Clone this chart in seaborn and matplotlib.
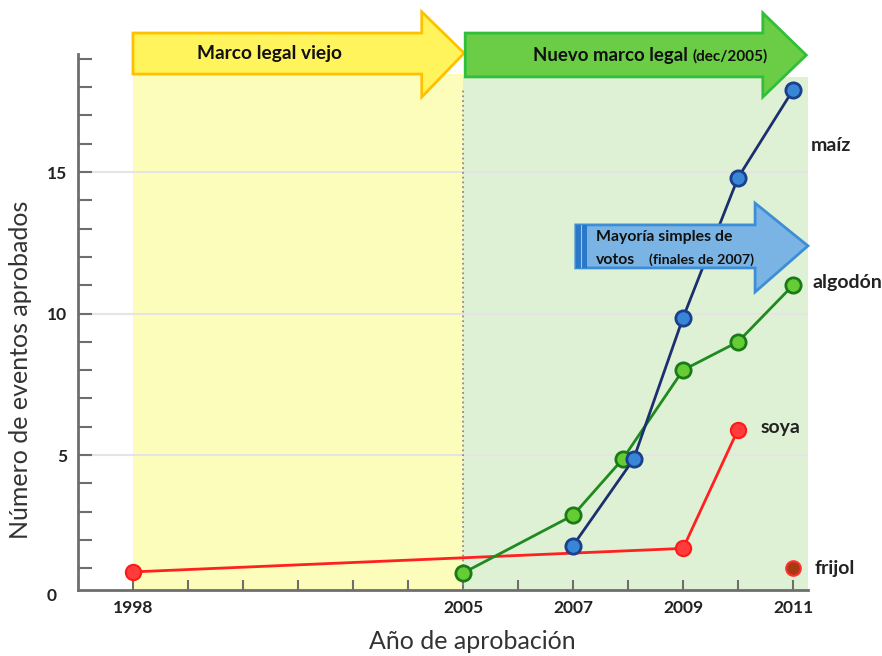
import numpy as np
import matplotlib
matplotlib.use("Agg")
import matplotlib.pyplot as plt
import seaborn as sns
from matplotlib.patches import Polygon, Rectangle

sns.set_theme(style="white")
plt.rcParams['font.family'] = ['Lato', 'DejaVu Sans']

# datos
etiquetas_x = ['1998', '', '', '', '', '', '2005', '', '2007', '', '2009', '', '2011']

maiz_anios = [2007, 2008.1, 2009, 2010, 2011]
maiz_valores = [1.8, 4.85, 9.85, 14.8, 17.9]

algodon_anios = [2005, 2007, 2007.9, 2009, 2010, 2011]
algodon_valores = [0.83, 2.87, 4.85, 8.0, 9.0, 11.0]

soya_anios = [1998, 2009, 2010]
soya_valores = [0.87, 1.7, 5.9]

frijol_anios = [2011]
frijol_valores = [1.0]


def pos(anios):
    # eje cortado: 1998 -> 0, 2005 -> 6, luego un paso por año
    a = np.asarray(anios, dtype=float)
    return np.where(a >= 2005, a - 1999, (a - 1998) * 6 / 7)


fig = plt.figure(figsize=(8.82, 6.56), dpi=100)
ax = fig.add_axes([0.0884, 0.1006, 0.8276, 0.8171])
y0, y1 = 0.23, 19.17
ax.set_xlim(-1, 12.27)
ax.set_ylim(y0, y1)

# zonas de fondo
ax.add_patch(Rectangle((0, y0), 6, 18.46 - y0, color='#fdfdbb', zorder=0, lw=0))
ax.add_patch(Rectangle((6, y0), 6.27, 18.36 - y0, color='#dff1d4', zorder=0, lw=0))
ax.plot([6, 6], [y0, 17.97], ls=':', color='#8a8a9a', lw=1.3, zorder=1)
for g in [5, 10, 15]:
    ax.axhline(g, color='#e4e4e4', lw=1.5, zorder=0.5)

# series
sns.lineplot(x=pos(soya_anios), y=soya_valores, ax=ax, color='#ff2020', lw=2,
             marker='o', markersize=11, markerfacecolor='#ff3b3b',
             markeredgecolor='#ff1a1a', markeredgewidth=1.5, zorder=3)
sns.lineplot(x=pos(algodon_anios), y=algodon_valores, ax=ax, color='#1f8a1f', lw=2,
             marker='o', markersize=11, markerfacecolor='#66cc33',
             markeredgecolor='#1a7a1a', markeredgewidth=2, zorder=4)
sns.lineplot(x=pos(maiz_anios), y=maiz_valores, ax=ax, color='#1c2f6e', lw=2,
             marker='o', markersize=11, markerfacecolor='#3a86d6',
             markeredgecolor='#1a3f8f', markeredgewidth=2, zorder=4)
sns.scatterplot(x=pos(frijol_anios), y=frijol_valores, ax=ax, s=110,
                color='#a83a12', edgecolor='#ff3030', linewidth=1.5, zorder=4)

# flechas
def flecha(x0, xb, xt, yb0, yb1, yh0, yh1, yt, fc, ec):
    pts = [(x0, yb0), (xb, yb0), (xb, yh0), (xt, yt), (xb, yh1), (xb, yb1), (x0, yb1)]
    ax.add_patch(Polygon(pts, closed=True, fc=fc, ec=ec, lw=2, clip_on=False, zorder=6))

flecha(0, 5.25, 6.02, 18.46, 19.91, 17.65, 20.66, 19.2, '#fff45c', '#ffc000')
flecha(6.04, 11.45, 12.24, 18.36, 19.91, 17.65, 20.62, 19.13, '#6acd45', '#2fbf3a')
flecha(8.05, 11.31, 12.27, 11.61, 13.13, 10.76, 13.90, 12.39, '#7ab4e4', '#3d8ed6')
ax.add_patch(Rectangle((8.05, 11.61), 0.2, 1.52, fc='#2a78c8', ec='none', zorder=7, clip_on=False))
ax.plot([8.14, 8.14], [11.63, 13.11], color='#9cc8f0', lw=0.8, zorder=8)

ax.text(2.49, 19.2, 'Marco legal viejo', ha='center', va='center',
        fontsize=13.8, fontweight='bold', color='#111111', zorder=8)
ax.text(7.27, 19.13, 'Nuevo marco legal', ha='left', va='center',
        fontsize=13.4, fontweight='bold', color='#111111', zorder=8)
ax.text(10.18, 19.1, '(dec/2005)', ha='left', va='center',
        fontsize=11, fontweight='bold', color='#111111', zorder=8)
ax.text(8.42, 12.7, 'Mayoría simples de', ha='left', va='center',
        fontsize=11.4, fontweight='bold', color='#111111', zorder=8)
ax.text(8.42, 11.89, 'votos', ha='left', va='center',
        fontsize=11.4, fontweight='bold', color='#111111', zorder=8)
ax.text(9.38, 11.89, '(finales de 2007)', ha='left', va='center',
        fontsize=10.3, fontweight='bold', color='#111111', zorder=8)

# etiquetas de series
for txt, x, y in [('maíz', 12.33, 15.95), ('algodón', 12.35, 11.08),
                  ('soya', 11.4, 5.96), ('frijol', 12.4, 1.0)]:
    ax.text(x, y, txt, ha='left', va='center', fontsize=14,
            fontweight='bold', color='#222222', clip_on=False)

# ejes
for s in ['top', 'right']:
    ax.spines[s].set_visible(False)
for s in ['left', 'bottom']:
    ax.spines[s].set_color('#6e6e6e')
    ax.spines[s].set_linewidth(2)

ax.set_xticks(range(0, 13))
ax.set_xticklabels(etiquetas_x, fontweight='bold', fontsize=12.5, color='#222222')
ax.set_yticks([5, 10, 15])
ax.set_yticklabels(['5', '10', '15'], fontweight='bold', fontsize=12.5, color='#222222')
ax.set_yticks([y for y in range(1, 20) if y % 5], minor=True)
ax.tick_params(axis='x', direction='in', length=7, width=1.5, color='#6e6e6e', pad=7, bottom=True)
ax.tick_params(axis='y', which='both', direction='in', length=10, width=1.5,
               color='#6e6e6e', pad=8, left=True)
ax.text(-0.029, -0.012, '0', transform=ax.transAxes, ha='right', va='center',
        fontsize=12.5, fontweight='bold', color='#222222')

ax.set_ylabel('Número de eventos aprobados', fontsize=18, color='#333333')
ax.yaxis.set_label_coords(-0.063, 0.41)
ax.set_xlabel('Año de aprobación', fontsize=18, color='#333333')
ax.xaxis.set_label_coords(0.54, -0.074)

fig.savefig('out.png', dpi=100)
